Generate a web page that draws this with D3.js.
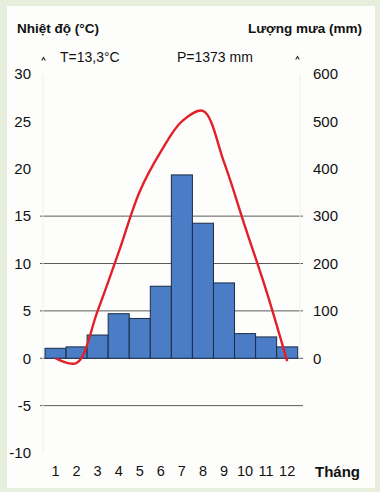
<!DOCTYPE html>
<html><head><meta charset="utf-8">
<script src="https://cdn.jsdelivr.net/npm/d3@7"></script>
<style>
html,body{margin:0;padding:0;background:#e7efdc;}
svg{display:block;font-family:"Liberation Sans",Arial,sans-serif;}
</style></head>
<body>
<script>
const months = ["1","2","3","4","5","6","7","8","9","10","11","12"];
const rainfall = [21, 24, 49, 94, 84, 152, 387, 285, 159, 52, 45, 24];
const temperature = [0, -0.5, 5, 11.2, 17.6, 21.8, 25, 26.1, 20.7, 13.9, 7.2, -0.3];
const tempTicks = [-10, -5, 0, 5, 10, 15, 20, 25, 30];
const rainTicks = [0, 100, 200, 300, 400, 500, 600];
const gridTemps = [-5, 0, 5, 10, 15];
const titleLeft = "Nhiệt độ (°C)";
const titleRight = "Lượng mưa (mm)";
const statT = "T=13,3°C";
const statP = "P=1373 mm";
const xTitle = "Tháng";

const W = 380, H = 492;
const svg = d3.select("body").append("svg").attr("width", W).attr("height", H);
svg.append("rect").attr("x",0).attr("y",0).attr("width",W).attr("height",H).attr("fill","#e7efdc");
svg.append("rect").attr("x",7).attr("y",6).attr("width",368).attr("height",482).attr("fill","#fdfefc");

const x = d3.scaleBand().domain(months).range([45, 297.7]).padding(0);
const yT = d3.scaleLinear().domain([-10, 30]).range([453, 74]);
const yP = d3.scaleLinear().domain([-200, 600]).range([453, 74]);

// gridlines
svg.append("g").selectAll("line").data(gridTemps).join("line")
  .attr("x1", 40).attr("x2", 303)
  .attr("y1", d => yT(d)).attr("y2", d => yT(d))
  .attr("stroke", "#5a5a5a").attr("stroke-width", 1);

// faint axis verticals
svg.append("line").attr("x1",43).attr("x2",43).attr("y1",yT(30)).attr("y2",yT(-10)).attr("stroke","#eef0ec");
svg.append("line").attr("x1",300).attr("x2",300).attr("y1",yP(600)).attr("y2",yP(0)).attr("stroke","#eef0ec");

// bars
svg.append("g").selectAll("rect").data(months).join("rect")
  .attr("x", d => x(d)).attr("width", x.bandwidth())
  .attr("y", (d,i) => yP(rainfall[i]))
  .attr("height", (d,i) => yP(0) - yP(rainfall[i]))
  .attr("fill", "#4a7dc5").attr("stroke", "#1d2b45").attr("stroke-width", 1);

// temperature curve
const line = d3.line()
  .x((d,i) => x(months[i]) + x.bandwidth()/2)
  .y(d => yT(d))
  .curve(d3.curveCatmullRom.alpha(0.5));
svg.append("path").datum(temperature).attr("d", line)
  .attr("fill","none").attr("stroke","#e3202a").attr("stroke-width",2.4);

// left axis
const gl = svg.append("g").attr("transform","translate(40,0)")
  .call(d3.axisLeft(yT).tickValues(tempTicks).tickSize(0).tickPadding(9).tickFormat(d => String(d)));
gl.select(".domain").remove();
gl.selectAll("text").attr("font-size",15).attr("fill","#111").attr("font-family","Liberation Sans, Arial, sans-serif");

// right axis
const gr = svg.append("g").attr("transform","translate(303,0)")
  .call(d3.axisRight(yP).tickValues(rainTicks).tickSize(0).tickPadding(10));
gr.select(".domain").remove();
gr.selectAll("text").attr("font-size",15).attr("fill","#111").attr("font-family","Liberation Sans, Arial, sans-serif");

// bottom axis
const gb = svg.append("g").attr("transform","translate(0,463)")
  .call(d3.axisBottom(x).tickSize(0).tickPadding(3));
gb.select(".domain").remove();
gb.selectAll("text").attr("font-size",14.5).attr("fill","#111").attr("font-family","Liberation Sans, Arial, sans-serif");

// arrowheads
[[43.5, 58], [297.5, 57]].forEach(([ax, ay]) => {
  svg.append("path").attr("d", `M${ax-1.8},${ay+2.5} L${ax},${ay-0.5} L${ax+1.8},${ay+2.5}`)
    .attr("fill","none").attr("stroke","#222").attr("stroke-width",1.1);
});

// titles
svg.append("text").attr("x",17).attr("y",33).attr("font-size",13.5).attr("font-weight","bold").attr("fill","#111").text(titleLeft);
svg.append("text").attr("x",362).attr("y",33).attr("text-anchor","end").attr("font-size",13.5).attr("font-weight","bold").attr("fill","#111").text(titleRight);
svg.append("text").attr("x",60).attr("y",62).attr("font-size",14).attr("fill","#111").text(statT);
svg.append("text").attr("x",177).attr("y",62).attr("font-size",14).attr("fill","#111").text(statP);
svg.append("text").attr("x",315).attr("y",477).attr("font-size",15).attr("font-weight","bold").attr("fill","#111").text(xTitle);
</script>
</body></html>
